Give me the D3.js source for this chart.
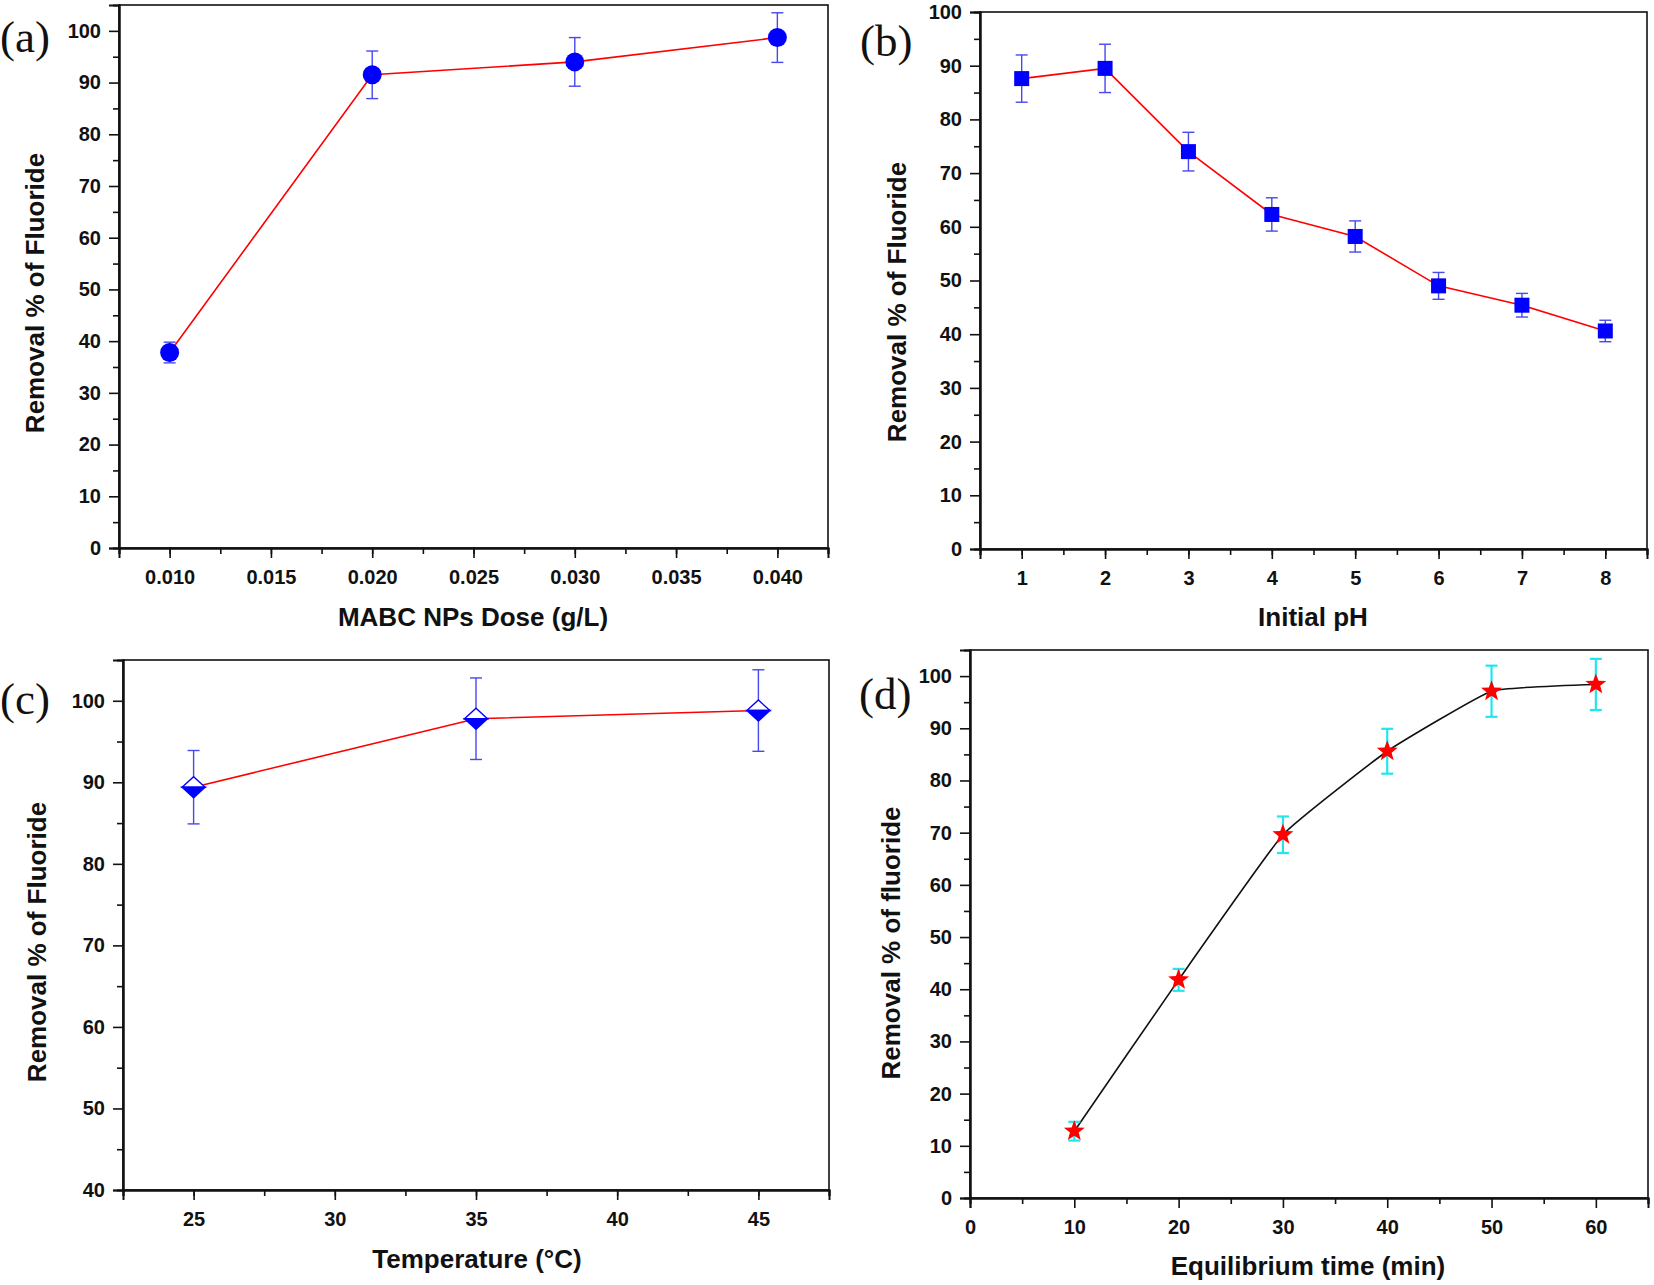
<!DOCTYPE html>
<html>
<head>
<meta charset="utf-8">
<script src="https://cdn.jsdelivr.net/npm/d3@7"></script>
<style>
  body { margin: 0; background: #fff; }
  svg { display: block; }
</style>
</head>
<body>
<svg width="1654" height="1285"></svg>
<script>
const svg = d3.select("svg");

// (a) dose
const doseX = [0.010, 0.020, 0.030, 0.040];
const doseY = [37.8, 91.5, 94.0, 98.7];
const doseErr = [2.0, 4.6, 4.7, 4.8];
const doseTicks = [0.010, 0.015, 0.020, 0.025, 0.030, 0.035, 0.040];
const doseTickLabels = ["0.010", "0.015", "0.020", "0.025", "0.030", "0.035", "0.040"];

// (b) pH
const phX = [1, 2, 3, 4, 5, 6, 7, 8];
const phY = [87.6, 89.5, 74.0, 62.3, 58.2, 49.0, 45.4, 40.6];
const phErr = [4.4, 4.5, 3.6, 3.1, 2.9, 2.5, 2.2, 2.0];
const phTicks = [1, 2, 3, 4, 5, 6, 7, 8];

// (c) temperature
const tempX = [25, 35, 45];
const tempY = [89.4, 97.8, 98.8];
const tempErr = [4.5, 5.0, 5.0];
const tempTicks = [25, 30, 35, 40, 45];

// (d) contact time
const timeX = [10, 20, 30, 40, 50, 60];
const timeY = [12.8, 41.8, 69.6, 85.6, 97.1, 98.4];
const timeErr = [1.8, 2.1, 3.5, 4.3, 4.9, 4.9];
const timeTicks = [0, 10, 20, 30, 40, 50, 60];

const yTicks0to100 = [0, 10, 20, 30, 40, 50, 60, 70, 80, 90, 100];
const yTicks40to100 = [40, 50, 60, 70, 80, 90, 100];

function zip(xs, ys, es) {
    return xs.map((x, i) => ({ x: x, y: ys[i], e: es[i] }));
}

function starPath(R, r) {
    let p = [];
    for (let i = 0; i < 10; i++) {
        let a = -Math.PI / 2 + i * Math.PI / 5;
        let rad = i % 2 === 0 ? R : r;
        p.push([rad * Math.cos(a), rad * Math.sin(a)]);
    }
    return "M" + p.map(d => d.join(",")).join("L") + "Z";
}

function drawPanel(cfg) {
    const x = d3.scaleLinear().domain(cfg.xDomain).range([cfg.left, cfg.right]);
    const y = d3.scaleLinear().domain(cfg.yDomain).range([cfg.bottom, cfg.top]);
    const g = svg.append("g");

    // frame
    g.append("rect")
        .attr("x", cfg.left).attr("y", cfg.top)
        .attr("width", cfg.right - cfg.left).attr("height", cfg.bottom - cfg.top)
        .attr("fill", "none").attr("stroke", "#111").attr("stroke-width", 1.6);

    // minor ticks
    const xAxisMinor = d3.axisBottom(x).tickValues(cfg.xMinor).tickSize(6).tickFormat("");
    const yAxisMinor = d3.axisLeft(y).tickValues(cfg.yMinor).tickSize(6).tickFormat("");
    g.append("g").attr("transform", `translate(0,${cfg.bottom})`).call(xAxisMinor);
    g.append("g").attr("transform", `translate(${cfg.left},0)`).call(yAxisMinor);

    // major ticks
    const xAxis = d3.axisBottom(x).tickValues(cfg.xTicks).tickSize(10).tickPadding(8)
        .tickFormat((d, i) => cfg.xLabels ? cfg.xLabels[i] : d);
    const yAxis = d3.axisLeft(y).tickValues(cfg.yTicks).tickSize(10).tickPadding(8);
    const gx = g.append("g").attr("transform", `translate(0,${cfg.bottom})`).call(xAxis);
    const gy = g.append("g").attr("transform", `translate(${cfg.left},0)`).call(yAxis);

    g.selectAll(".domain").attr("stroke", "#111").attr("stroke-width", 2);
    g.selectAll(".tick line").attr("stroke", "#111").attr("stroke-width", 1.6);
    g.selectAll(".tick text")
        .attr("fill", "#111")
        .style("font-family", "'Liberation Sans', Arial, sans-serif")
        .style("font-weight", "bold")
        .style("font-size", "20px");
    gx.selectAll(".tick text").attr("dy", "0.88em");

    // axis titles
    g.append("text")
        .attr("x", cfg.xTitlePos[0]).attr("y", cfg.xTitlePos[1])
        .attr("text-anchor", "middle")
        .style("font-family", "'Liberation Sans', Arial, sans-serif")
        .style("font-weight", "bold").style("font-size", "26px")
        .attr("fill", "#111")
        .text(cfg.xTitle);
    g.append("text")
        .attr("transform", `translate(${cfg.yTitlePos[0]},${cfg.yTitlePos[1]}) rotate(-90)`)
        .attr("text-anchor", "middle")
        .attr("dominant-baseline", "central")
        .style("font-family", "'Liberation Sans', Arial, sans-serif")
        .style("font-weight", "bold").style("font-size", "26px")
        .attr("fill", "#111")
        .text(cfg.yTitle);

    // panel letter
    g.append("text")
        .attr("x", cfg.letterPos[0]).attr("y", cfg.letterPos[1])
        .style("font-family", "'Liberation Serif', 'Times New Roman', serif")
        .style("font-size", "45px")
        .attr("fill", "#111")
        .text(cfg.letter);

    // line
    const line = d3.line().x(d => x(d.x)).y(d => y(d.y)).curve(cfg.curve || d3.curveLinear);
    g.append("path")
        .datum(cfg.data)
        .attr("d", line)
        .attr("fill", "none")
        .attr("stroke", cfg.lineColor)
        .attr("stroke-width", 1.6);

    // error bars
    const eb = g.append("g").attr("stroke", cfg.errColor).attr("stroke-width", cfg.errWidth);
    cfg.data.forEach(d => {
        const cx = x(d.x), y1 = y(d.y + d.e), y2 = y(d.y - d.e);
        eb.append("line").attr("x1", cx).attr("x2", cx).attr("y1", y1).attr("y2", y2);
        eb.append("line").attr("x1", cx - 6).attr("x2", cx + 6).attr("y1", y1).attr("y2", y1);
        eb.append("line").attr("x1", cx - 6).attr("x2", cx + 6).attr("y1", y2).attr("y2", y2);
    });

    // markers
    const mk = g.selectAll(".mk").data(cfg.data).enter().append("g")
        .attr("transform", d => `translate(${x(d.x)},${y(d.y)})`);
    cfg.marker(mk);
}

const blue = "#0000ff";
const errBlue = "#4848ee";

drawPanel({
    left: 119, right: 828, top: 5, bottom: 548,
    xDomain: [0.0075, 0.0425], yDomain: [0, 105],
    xTicks: doseTicks, xLabels: doseTickLabels,
    xMinor: d3.range(0.0075, 0.0426, 0.0025),
    yTicks: yTicks0to100, yMinor: d3.range(5, 105, 10),
    xTitle: "MABC NPs Dose (g/L)", xTitlePos: [473, 626],
    yTitle: "Removal % of Fluoride", yTitlePos: [35, 293],
    letter: "(a)", letterPos: [0, 52],
    data: zip(doseX, doseY, doseErr),
    lineColor: "#ff0000", errColor: errBlue, errWidth: 1.4,
    marker: s => s.append("circle").attr("r", 9.5).attr("fill", blue)
});

drawPanel({
    left: 980, right: 1647, top: 12, bottom: 549,
    xDomain: [0.5, 8.5], yDomain: [0, 100],
    xTicks: phTicks,
    xMinor: d3.range(0.5, 8.6, 0.5),
    yTicks: yTicks0to100, yMinor: d3.range(5, 100, 10),
    xTitle: "Initial pH", xTitlePos: [1313, 626],
    yTitle: "Removal % of Fluoride", yTitlePos: [897, 302],
    letter: "(b)", letterPos: [860, 56],
    data: zip(phX, phY, phErr),
    lineColor: "#ff0000", errColor: errBlue, errWidth: 1.4,
    marker: s => s.append("rect").attr("x", -7.5).attr("y", -7.5)
        .attr("width", 15).attr("height", 15).attr("fill", blue)
});

drawPanel({
    left: 123, right: 829, top: 660, bottom: 1190,
    xDomain: [22.5, 47.5], yDomain: [40, 105],
    xTicks: tempTicks,
    xMinor: d3.range(22.5, 47.6, 2.5),
    yTicks: yTicks40to100, yMinor: d3.range(45, 105, 10),
    xTitle: "Temperature (\u00B0C)", xTitlePos: [477, 1268],
    yTitle: "Removal % of Fluoride", yTitlePos: [37, 942],
    letter: "(c)", letterPos: [0, 714],
    data: zip(tempX, tempY, tempErr),
    lineColor: "#ff0000", errColor: errBlue, errWidth: 1.4,
    marker: s => {
        s.append("path").attr("d", "M-11.5,0L0,-10.5L11.5,0Z")
            .attr("fill", "#fff").attr("stroke", blue).attr("stroke-width", 1.4);
        s.append("path").attr("d", "M-11.5,0L0,10.5L11.5,0Z")
            .attr("fill", blue).attr("stroke", blue).attr("stroke-width", 1.4);
    }
});

drawPanel({
    left: 970, right: 1648, top: 650, bottom: 1198,
    xDomain: [0, 65], yDomain: [0, 105],
    xTicks: timeTicks,
    xMinor: d3.range(5, 66, 10),
    yTicks: yTicks0to100, yMinor: d3.range(5, 105, 10),
    xTitle: "Equilibrium time (min)", xTitlePos: [1308, 1275],
    yTitle: "Removal % of fluoride", yTitlePos: [891, 943],
    letter: "(d)", letterPos: [859, 709],
    data: zip(timeX, timeY, timeErr),
    curve: d3.curveCardinal.tension(0.65),
    lineColor: "#111", errColor: "#22e6ee", errWidth: 2.2,
    marker: s => s.append("path").attr("d", starPath(11, 4.6)).attr("fill", "#ff0000")
});
</script>
</body>
</html>
